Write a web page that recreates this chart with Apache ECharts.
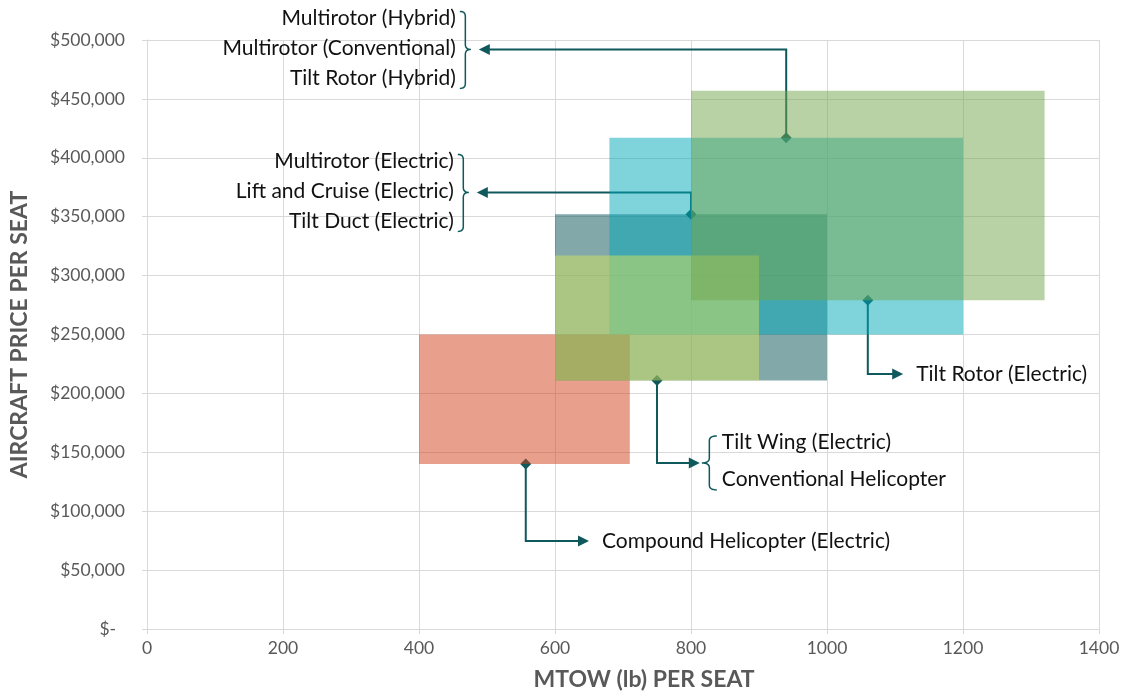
<!DOCTYPE html>
<html><head><meta charset="utf-8">
<script src="https://cdn.jsdelivr.net/npm/echarts@6/dist/echarts.min.js"></script>
<style>html,body{margin:0;padding:0;background:#fff}#c{width:1124px;height:696px}</style>
</head><body><div id="c"></div>
<script>
// ---- data ----
const xAxisMax = 1400, xAxisStep = 200;
const yAxisMax = 500000, yAxisStep = 50000;

// rectangles (drawn in this order)
const rectXMin = [400, 600, 680, 600, 800];
const rectXMax = [710, 1000, 1200, 900, 1320];
const rectYMin = [140000, 211000, 250000, 211000, 279000];
const rectYMax = [250000, 352000, 417000, 317000, 457000];

// annotation call-outs
const annoMarkerX = [940, 800, 1060, 750, 557];
const annoMarkerY = [417000, 352000, 279000, 211000, 140000];
const annoElbowY  = [492000, 370600, 216500, 141000, 74700];
const annoArrowX  = [488, 485, 1112, 813, 650];
const annoLabels = [
  ['Multirotor (Hybrid)', 'Multirotor (Conventional)', 'Tilt Rotor (Hybrid)'],
  ['Multirotor (Electric)', 'Lift and Cruise (Electric)', 'Tilt Duct (Electric)'],
  ['Tilt Rotor (Electric)'],
  ['Tilt Wing (Electric)', 'Conventional Helicopter'],
  ['Compound Helicopter (Electric)']
];

// ---- styles ----
const rectColors = ['rgba(209,65,25,0.5)', 'rgba(5,81,85,0.5)', 'rgba(0,167,183,0.5)', 'rgba(212,226,90,0.5)', 'rgba(115,165,75,0.5)'];
const LINE = '#0f595c';
const FONT = 'Lato, "Open Sans", sans-serif';
const GRID = '#d9d9d9';
const AXT = '#595959';

function bracePoints(xArm, xTip, yTop, yMid, yBot) {
  const xm = (xArm + xTip) / 2, r = 5, pts = [];
  function quad(p0, c, p1) {
    for (let k = 0; k <= 8; k++) {
      const t = k / 8, u = 1 - t;
      pts.push([u*u*p0[0] + 2*u*t*c[0] + t*t*p1[0], u*u*p0[1] + 2*u*t*c[1] + t*t*p1[1]]);
    }
  }
  quad([xArm, yTop], [xm, yTop], [xm, yTop + r]);
  quad([xm, yMid - r], [xm, yMid], [xTip, yMid]);
  quad([xTip, yMid], [xm, yMid], [xm, yMid + r]);
  quad([xm, yBot - r], [xm, yBot], [xArm, yBot]);
  return pts;
}

function renderRect(params, api) {
  const i = params.dataIndex;
  const p0 = api.coord([api.value(0), api.value(3)]);
  const p1 = api.coord([api.value(1), api.value(2)]);
  return { type: 'rect', shape: { x: p0[0], y: p0[1], width: p1[0] - p0[0], height: p1[1] - p0[1] },
           style: { fill: rectColors[i] } };
}

function txt(s, x, y, align) {
  return { type: 'text', style: { text: s, x: x, y: y, fill: '#111', font: '21px ' + FONT,
           align: align, verticalAlign: 'middle', textAlign: align, textVerticalAlign: 'middle' } };
}

function renderAnno(params, api) {
  const i = params.dataIndex;
  const m = api.coord([api.value(0), api.value(1)]);
  const e = api.coord([api.value(0), api.value(2)]);
  const t = api.coord([api.value(3), api.value(2)]);
  const dir = t[0] < e[0] ? -1 : 1;
  const AH = 11, AW = 5.5, D = 5.5;
  const ch = [];
  ch.push({ type: 'polyline', shape: { points: [m, e, [t[0] - dir * AH + dir, t[1]]] }, style: { stroke: LINE, lineWidth: 2, fill: null } });
  ch.push({ type: 'polygon', shape: { points: [[t[0], t[1]], [t[0] - dir * AH, t[1] - AW], [t[0] - dir * AH, t[1] + AW]] }, style: { fill: LINE } });
  ch.push({ type: 'polygon', shape: { points: [[m[0], m[1] - D], [m[0] + D, m[1]], [m[0], m[1] + D], [m[0] - D, m[1]]] }, style: { fill: LINE } });
  const labs = annoLabels[i];
  const n = labs.length;
  if (dir < 0) {
    ch.push({ type: 'polyline', shape: { points: bracePoints(t[0] - 19, t[0] - 8, t[1] - 38, t[1], t[1] + 39) }, style: { stroke: LINE, lineWidth: 1.5, fill: null } });
    labs.forEach((s, k) => ch.push(txt(s, t[0] - 23, t[1] - 1.5 + (k - (n - 1) / 2) * 30, 'right')));
  } else if (n === 1) {
    ch.push(txt(labs[0], t[0] + 13, t[1], 'left'));
  } else {
    ch.push({ type: 'polyline', shape: { points: bracePoints(t[0] + 17, t[0] + 2, t[1] - 27, t[1], t[1] + 27) }, style: { stroke: LINE, lineWidth: 1.5, fill: null } });
    labs.forEach((s, k) => ch.push(txt(s, t[0] + 22, t[1] - 2 + (k - (n - 1) / 2) * 37, 'left')));
  }
  return { type: 'group', children: ch };
}

const chart = echarts.init(document.getElementById('c'));
chart.setOption({
  animation: false,
  backgroundColor: '#fff',
  grid: { left: 147, right: 25, top: 40, bottom: 67 },
  xAxis: {
    type: 'value', min: 0, max: xAxisMax, interval: xAxisStep,
    axisLine: { show: true, lineStyle: { color: GRID } },
    axisTick: { show: true, length: 5, lineStyle: { color: GRID } },
    splitLine: { show: true, lineStyle: { color: GRID, width: 1 } },
    axisLabel: { color: AXT, fontFamily: FONT, fontSize: 17.5, margin: 10, formatter: v => String(v) },
    name: 'MTOW (lb) PER SEAT', nameLocation: 'middle', nameGap: 39,
    nameTextStyle: { color: AXT, fontFamily: FONT, fontSize: 23, fontWeight: 'bold', padding: [0, 0, 0, 42] }
  },
  yAxis: {
    type: 'value', min: 0, max: yAxisMax, interval: yAxisStep,
    axisLine: { show: true, lineStyle: { color: GRID } },
    axisTick: { show: true, length: 5, lineStyle: { color: GRID } },
    splitLine: { show: true, lineStyle: { color: GRID, width: 1 } },
    axisLabel: { color: AXT, fontFamily: FONT, fontSize: 17.5, margin: 22,
      formatter: v => v === 0 ? '$-  ' : '$' + v.toLocaleString('en-US') },
    name: 'AIRCRAFT PRICE PER SEAT', nameLocation: 'middle', nameGap: 116,
    nameTextStyle: { color: AXT, fontFamily: FONT, fontSize: 23, fontWeight: 'bold' }
  },
  series: [
    {
      type: 'custom', z: 1, renderItem: renderAnno, silent: true,
      encode: { x: [0, 3], y: [1, 2] },
      data: annoMarkerX.map((v, i) => [v, annoMarkerY[i], annoElbowY[i], annoArrowX[i]])
    },
    {
      type: 'custom', z: 2, renderItem: renderRect, silent: true,
      encode: { x: [0, 1], y: [2, 3] },
      data: rectXMin.map((v, i) => [v, rectXMax[i], rectYMin[i], rectYMax[i]])
    }
  ]
});
</script></body></html>
